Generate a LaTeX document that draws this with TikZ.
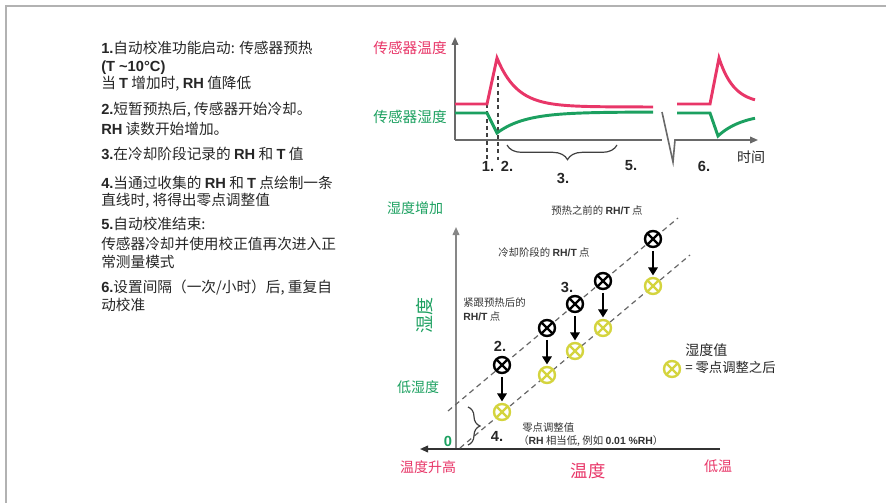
\documentclass[tikz,border=0pt]{standalone}
\usepackage{fontspec}
\setmainfont{Noto Sans CJK SC}
\newfontfamily\arialfont{Liberation Sans}
\usetikzlibrary{arrows.meta,decorations.pathreplacing}
\definecolor{sensred}{RGB}{232,54,104}
\definecolor{sensgreen}{RGB}{28,160,96}
\definecolor{zeroyellow}{RGB}{212,212,62}
\definecolor{axisgray}{RGB}{105,105,105}
\newcommand\latb[1]{{\arialfont\bfseries #1}}
\begin{document}
\begin{tikzpicture}[x=0.75pt,y=-0.75pt,
  txt/.style={anchor=base west,inner sep=0pt,text=black!85,font=\fontsize{11}{13}\selectfont},
  lbl/.style={inner sep=0pt,text=black!80,font=\fontsize{7.8}{10}\selectfont},
  num/.style={inner sep=0pt,text=black!85,font=\fontsize{11}{13}\selectfont\arialfont\bfseries},
  axis/.style={draw=axisgray,line width=1.2pt,-{Triangle[length=6pt,width=5pt]}},
  guide/.style={draw=black!75,line width=0.8pt,dash pattern=on 3pt off 2.5pt},
  trend/.style={draw=black!60,line width=0.9pt,dash pattern=on 4pt off 3pt},
  tcurve/.style={draw=sensred,line width=2.2pt},
  hcurve/.style={draw=sensgreen,line width=2.2pt},
  xpt/.style={circle,draw=#1,fill=white,line width=1.8pt,minimum size=12pt,inner sep=0pt,
    path picture={\draw[#1,line width=1.8pt]
      (path picture bounding box.north west) -- (path picture bounding box.south east)
      (path picture bounding box.north east) -- (path picture bounding box.south west);}},
  zeroshift/.style={line width=2.2pt,-{Triangle[length=6pt,width=7pt]},shorten <=2pt,shorten >=1pt}]
\useasboundingbox (0,0) rectangle (886,503);
\draw[black!30,line width=1.5pt] (6,503) -- (6,6) -- (886,6);

\node[txt] (t1) at (101,54) {\latb{1.}自动校准功能启动: 传感器预热};
\node[txt] (t2) at (101,72) {\latb{(T \textasciitilde10°C)}};
\node[txt] (t3) at (101,89) {当 \latb{T} 增加时, \latb{RH} 值降低};
\node[txt] (t4) at (101,115) {\latb{2.}短暂预热后, 传感器开始冷却。};
\node[txt] (t5) at (101,134) {\latb{RH} 读数开始增加。};
\node[txt] (t6) at (101,160) {\latb{3.}在冷却阶段记录的 \latb{RH} 和 \latb{T} 值};
\node[txt] (t7) at (101,188) {\latb{4.}当通过收集的 \latb{RH} 和 \latb{T} 点绘制一条};
\node[txt] (t8) at (101,205) {直线时, 将得出零点调整值};
\node[txt] (t9) at (101,229) {\latb{5.}自动校准结束:};
\node[txt] (t10) at (101,249) {传感器冷却并使用校正值再次进入正};
\node[txt] (t11) at (101,267) {常测量模式};
\node[txt] (t12) at (101,292) {\latb{6.}设置间隔（一次/小时）后, 重复自};
\node[txt] (t13) at (101,310) {动校准};

\draw[guide] (487,104) -- (487,160);
\draw[guide] (498,76) -- (498,160);
\draw[axis] (455,140) -- (455,37);
\draw[draw=axisgray,line width=1.2pt] (455,140) -- (662,140);
\draw[axis] (662,112) -- (673,162) -- (675,140) -- (758,140);
\draw[tcurve] (455,104) -- (487,104) -- (497,58) -- plot[domain=497:653,samples=60] (\x,{107-49*exp(-(\x-497)/20)});
\draw[hcurve] (455,113) -- (487,113) -- (497,133) -- plot[domain=497:653,samples=60] (\x,{112+21*exp(-(\x-497)/28)});
\draw[tcurve] (677,104) -- (710,104) -- (719,58) -- plot[domain=719:755,samples=30] (\x,{104-46*exp(-(\x-719)/15)});
\draw[hcurve] (677,113) -- (710,113) -- (718,136) -- plot[domain=718:755,samples=30] (\x,{113+23*exp(-(\x-718)/25)});
\draw[black!75,line width=0.9pt,decorate,decoration={brace,mirror,amplitude=11pt,aspect=0.55}] (507,145) -- (617,145);

\node[text=sensred,font=\fontsize{11}{13}\selectfont] (tlab) at (410,48) {传感器温度};
\node[text=sensgreen,font=\fontsize{11}{13}\selectfont] (hlab) at (410,117) {传感器湿度};
\node[num] (s1) at (488,166) {1.};
\node[num] (s2) at (507,166) {2.};
\node[num] (s3) at (563,178) {3.};
\node[num] (s5) at (631,166) {5.};
\node[num] (s6) at (704,166) {6.};
\node[text=black!85,font=\fontsize{10.5}{13}\selectfont] (time) at (751,157) {时间};

\draw[axis,draw=axisgray!80] (456,449) -- (456,227);
\draw[axis,draw=black!80] (720,449) -- (420,449);
\draw[trend] (448,411) -- (678,218);
\draw[trend] (460,448) -- (690,255);
\draw[black!75,line width=0.9pt,decorate,decoration={brace,amplitude=9pt}] (468,407) -- (468,445);

\node[xpt=black] (b1) at (502,365) {};
\node[xpt=black] (b2) at (547,328) {};
\node[xpt=black] (b3) at (575,304) {};
\node[xpt=black] (b4) at (603,281) {};
\node[xpt=black] (b5) at (653,239) {};
\node[xpt=zeroyellow] (y1) at (502,412) {};
\node[xpt=zeroyellow] (y2) at (547,375) {};
\node[xpt=zeroyellow] (y3) at (575,351) {};
\node[xpt=zeroyellow] (y4) at (603,328) {};
\node[xpt=zeroyellow] (y5) at (653,286) {};
\draw[zeroshift] (b1) -- (y1);
\draw[zeroshift] (b2) -- (y2);
\draw[zeroshift] (b3) -- (y3);
\draw[zeroshift] (b4) -- (y4);
\draw[zeroshift] (b5) -- (y5);

\node[lbl,anchor=west] (pre) at (551,211) {预热之前的 \latb{RH/T} 点};
\node[lbl,anchor=west] (cool) at (498,253) {冷却阶段的 \latb{RH/T} 点};
\node[lbl,anchor=west] (after) at (463,303) {紧跟预热后的};
\node[lbl,anchor=west] (after2) at (463,317) {\latb{RH/T} 点};
\node[num] (n2) at (500,346) {2.};
\node[num] (n3) at (567,287) {3.};
\node[num] (n4) at (497,436) {4.};
\node[lbl,anchor=west] (zero) at (522,428) {零点调整值};
\node[lbl,anchor=west] (zero2) at (518,441) {（\latb{RH} 相当低, 例如 \latb{0.01 \%RH}）};

\node[xpt=zeroyellow] (leg) at (672,369) {};
\node[anchor=west,inner sep=0pt,text=black!85,font=\fontsize{10.5}{13}\selectfont] (legt) at (685,350) {湿度值};
\node[anchor=west,inner sep=0pt,text=black!85,font=\fontsize{10}{13}\selectfont] (legt2) at (685,367) {= 零点调整之后};

\node[text=sensgreen,font=\fontsize{10.5}{13}\selectfont] (hup) at (415,208) {湿度增加};
\node[text=sensgreen,font=\fontsize{13.5}{15}\selectfont,rotate=90] (hum) at (425,315) {湿度};
\node[text=sensgreen,font=\fontsize{10.5}{13}\selectfont] (hlow) at (418,387) {低湿度};
\node[text=sensgreen,font=\fontsize{11}{13}\selectfont\arialfont\bfseries] (orig) at (448,441) {0};
\node[text=sensred,font=\fontsize{10.5}{13}\selectfont] (thigh) at (428,467) {温度升高};
\node[text=sensred,font=\fontsize{13}{15}\selectfont] (temp) at (588,471) {温度};
\node[text=sensred,font=\fontsize{10.5}{13}\selectfont] (tlow) at (718,466) {低温};
\end{tikzpicture}
\end{document}
